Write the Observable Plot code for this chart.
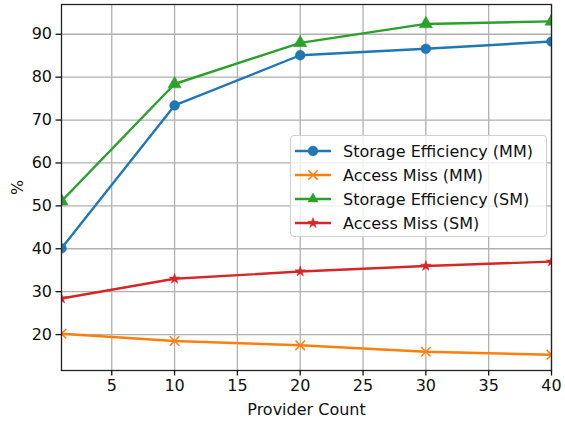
<!DOCTYPE html>
<html>
<head>
<meta charset="utf-8">
<script src="https://cdn.jsdelivr.net/npm/d3@7"></script>
<script src="https://cdn.jsdelivr.net/npm/@observablehq/plot@0.6"></script>
<style>
  html, body { margin: 0; padding: 0; background: #fff; }
  #wrap { position: relative; width: 565px; height: 421px; font-family: "DejaVu Sans", sans-serif; }
  #legend { position: absolute; left: 290px; top: 135px; width: 257px; height: 102px;
    background: rgba(255,255,255,0.8); border: 1px solid #d0d0d0; border-radius: 4px; box-sizing: border-box; padding-top: 3px; }
  .row { display: flex; align-items: center; height: 24px; font-size: 16px; color: #111; }
  .row svg { margin-left: 4px; margin-right: 12px; }
</style>
</head>
<body>
<div id="wrap"></div>
<script>
const providers = [1, 10, 20, 30, 40];
const storageMM = [40.1, 73.4, 85.1, 86.6, 88.3];
const accessMM = [20.2, 18.5, 17.5, 16.0, 15.3];
const storageSM = [51.1, 78.4, 88.0, 92.4, 93.0];
const accessSM = [28.4, 33.0, 34.7, 36.0, 37.0];
const seriesNames = ["Storage Efficiency (MM)", "Access Miss (MM)", "Storage Efficiency (SM)", "Access Miss (SM)"];
const seriesColors = ["#1f77b4", "#ff7f0e", "#2ca02c", "#d62728"];
const seriesSymbols = ["circle", "times", "triangle", "star"];
const xTicks = [5, 10, 15, 20, 25, 30, 35, 40];
const yTicks = [20, 30, 40, 50, 60, 70, 80, 90];

const allValues = [storageMM, accessMM, storageSM, accessSM];
const rows = [];
allValues.forEach((vals, i) => vals.forEach((v, j) => rows.push({x: providers[j], y: v, s: seriesNames[i]})));

const symR = s => s === "star" ? 3.3 : s === "times" ? 4.4 : 4.9;

const seriesMarks = seriesNames.flatMap((name, i) => {
  const d = rows.filter(r => r.s === name);
  return [
    Plot.line(d, {x: "x", y: "y", stroke: seriesColors[i], strokeWidth: 2.4, clip: true}),
    Plot.dot(d, {x: "x", y: "y", symbol: () => seriesSymbols[i], r: symR(seriesSymbols[i]),
      fill: seriesSymbols[i] === "times" ? "none" : seriesColors[i],
      stroke: seriesColors[i], strokeWidth: seriesSymbols[i] === "times" ? 1.6 : 0.5, clip: true})
  ];
});

const chart = Plot.plot({
  width: 565, height: 421,
  marginLeft: 61, marginRight: 14, marginTop: 4, marginBottom: 51,
  style: {fontFamily: "DejaVu Sans, sans-serif", fontSize: "16px", color: "#111", background: "#fff"},
  x: {domain: [1, 40]},
  y: {domain: [11.63, 96.93]},
  symbol: {domain: seriesSymbols, range: seriesSymbols},
  marks: [
    Plot.gridX(xTicks, {stroke: "#b0b0b0", strokeOpacity: 1, strokeWidth: 1.3}),
    Plot.gridY(yTicks, {stroke: "#b0b0b0", strokeOpacity: 1, strokeWidth: 1.3}),
    ...seriesMarks,
    Plot.frame({stroke: "#222", strokeWidth: 1.3}),
    Plot.axisX(xTicks, {tickSize: 5.5, tickPadding: 4, strokeWidth: 1.3, label: "Provider Count", labelAnchor: "center", labelArrow: "none", labelOffset: 44, fontSize: 16}),
    Plot.axisY(yTicks, {tickSize: 5.5, tickPadding: 4, strokeWidth: 1.3, label: "%", labelAnchor: "center", labelArrow: "none", labelOffset: 50, fontSize: 16})
  ]
});

const wrap = document.getElementById("wrap");
wrap.appendChild(chart);

const legend = document.createElement("div");
legend.id = "legend";
seriesNames.forEach((name, i) => {
  const row = document.createElement("div");
  row.className = "row";
  const ns = "http://www.w3.org/2000/svg";
  const svg = document.createElementNS(ns, "svg");
  svg.setAttribute("width", 36); svg.setAttribute("height", 14);
  const line = document.createElementNS(ns, "line");
  line.setAttribute("x1", 0); line.setAttribute("x2", 36); line.setAttribute("y1", 7); line.setAttribute("y2", 7);
  line.setAttribute("stroke", seriesColors[i]); line.setAttribute("stroke-width", 2.4);
  svg.appendChild(line);
  const symMap = {circle: d3.symbolCircle, times: d3.symbolTimes, triangle: d3.symbolTriangle2, star: d3.symbolStar};
  const r = symR(seriesSymbols[i]);
  const p = document.createElementNS(ns, "path");
  p.setAttribute("d", d3.symbol(symMap[seriesSymbols[i]], Math.PI * r * r)());
  p.setAttribute("transform", "translate(18,7)");
  p.setAttribute("fill", seriesSymbols[i] === "times" ? "none" : seriesColors[i]);
  p.setAttribute("stroke", seriesColors[i]);
  p.setAttribute("stroke-width", seriesSymbols[i] === "times" ? 1.6 : 0.5);
  svg.appendChild(p);
  row.appendChild(svg);
  const span = document.createElement("span");
  span.textContent = name;
  row.appendChild(span);
  legend.appendChild(row);
});
wrap.appendChild(legend);
</script>
</body>
</html>
